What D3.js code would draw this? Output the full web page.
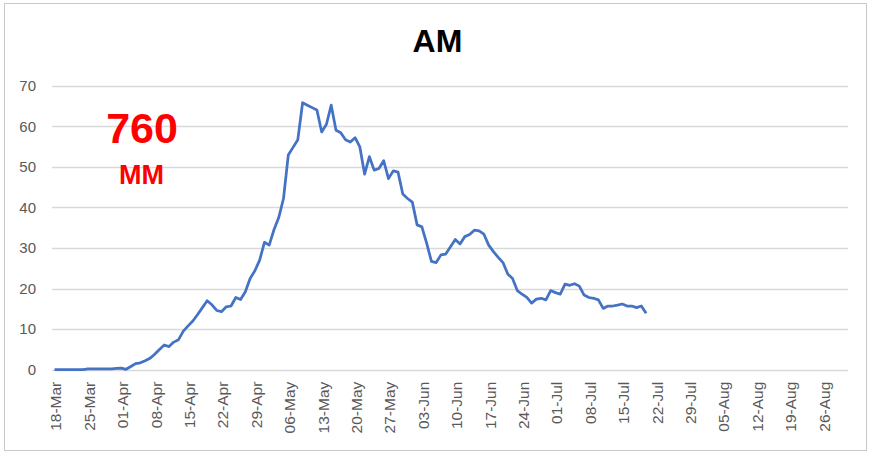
<!DOCTYPE html>
<html>
<head>
<meta charset="utf-8">
<script src="https://cdn.jsdelivr.net/npm/d3@7"></script>
<style>
  body { margin: 0; background: #fff; }
  svg { display: block; font-family: "Liberation Sans", Arial, sans-serif; }
</style>
</head>
<body>
<svg width="871" height="452"></svg>
<script>
// daily values, one per day starting at firstDay
var firstDay = "18-Mar-2020";
var values = [
  0.0, 0.0, 0.0, 0.0, 0.0, 0.0, 0.0, 0.2, 0.2, 0.2,
  0.2, 0.2, 0.2, 0.3, 0.4, 0.1, 0.8, 1.5, 1.7, 2.2,
  2.8, 3.8, 5.0, 6.1, 5.7, 6.8, 7.4, 9.5, 10.8, 12.0,
  13.6, 15.3, 17.0, 16.0, 14.6, 14.3, 15.5, 15.7, 17.8, 17.3,
  19.2, 22.5, 24.4, 27.0, 31.4, 30.7, 34.5, 37.5, 42.2, 52.9,
  54.8, 56.7, 65.8, 65.2, 64.6, 64.0, 58.6, 60.5, 65.2, 59.0,
  58.4, 56.7, 56.1, 57.2, 54.9, 48.2, 52.5, 49.2, 49.6, 51.5,
  47.1, 49.0, 48.7, 43.3, 42.2, 41.3, 35.7, 35.2, 31.2, 26.7,
  26.4, 28.3, 28.5, 30.3, 32.1, 31.0, 32.8, 33.3, 34.4, 34.2,
  33.4, 30.7, 29.1, 27.7, 26.4, 23.6, 22.5, 19.5, 18.6, 17.8,
  16.4, 17.4, 17.6, 17.2, 19.5, 19.0, 18.6, 21.1, 20.8, 21.2,
  20.6, 18.4, 17.8, 17.6, 17.2, 15.1, 15.7, 15.7, 15.9, 16.2,
  15.7, 15.7, 15.3, 15.7, 13.9
];

var xTickLabels = ["18-Mar", "25-Mar", "01-Apr", "08-Apr", "15-Apr", "22-Apr", "29-Apr",
  "06-May", "13-May", "20-May", "27-May", "03-Jun", "10-Jun", "17-Jun", "24-Jun",
  "01-Jul", "08-Jul", "15-Jul", "22-Jul", "29-Jul", "05-Aug", "12-Aug", "19-Aug", "26-Aug"];
var lastDay = "31-Aug-2020";
var yTicks = [0, 10, 20, 30, 40, 50, 60, 70];

var parse = d3.utcParse("%d-%b-%Y");
var start = parse(firstDay);
var data = values.map(function(v, i) {
  return { date: d3.utcDay.offset(start, i), value: v };
});
var tickDates = xTickLabels.map(function(s) { return parse(s + "-2020"); });

var svg = d3.select("svg");

svg.append("rect")
  .attr("x", 4.5).attr("y", 3.5)
  .attr("width", 862).attr("height", 447)
  .attr("fill", "none")
  .attr("stroke", "#c9c9c9");

var x = d3.scaleUtc().domain([start, parse(lastDay)]).range([54.5, 846.5]);
var y = d3.scaleLinear().domain([0, 70]).range([369.7, 85.7]);

// gridlines
svg.append("g")
  .selectAll("line")
  .data(yTicks)
  .enter().append("line")
    .attr("x1", 52).attr("x2", 848)
    .attr("y1", function(d) { return Math.round(y(d)) + 0.5; })
    .attr("y2", function(d) { return Math.round(y(d)) + 0.5; })
    .attr("stroke", "#d9d9d9")
    .attr("stroke-width", 1.3);

// y axis labels
var yAxis = d3.axisLeft(y).tickValues(yTicks).tickSize(0).tickPadding(0);
var gy = svg.append("g")
  .attr("transform", "translate(36,0)")
  .call(yAxis);
gy.select(".domain").remove();
gy.selectAll("text")
  .attr("fill", "#595959")
  .style("font-size", "15px")
  .style("font-family", "Liberation Sans, Arial, sans-serif");

// x axis labels (rotated)
var xAxis = d3.axisBottom(x).tickValues(tickDates).tickFormat(d3.utcFormat("%d-%b")).tickSize(0);
var gx = svg.append("g")
  .attr("transform", "translate(1," + y(0) + ")")
  .call(xAxis);
gx.select(".domain").remove();
gx.selectAll("text")
  .attr("transform", "rotate(-90)")
  .attr("x", -12)
  .attr("y", 0)
  .attr("dy", "0.35em")
  .style("text-anchor", "end")
  .attr("fill", "#595959")
  .style("font-size", "15.5px")
  .style("font-family", "Liberation Sans, Arial, sans-serif");

// line
var line = d3.line()
  .x(function(d) { return x(d.date); })
  .y(function(d) { return y(d.value); });

svg.append("path")
  .datum(data)
  .attr("d", line)
  .attr("fill", "none")
  .attr("stroke", "#4472c4")
  .attr("stroke-width", 2.75)
  .attr("stroke-linejoin", "round");

// title
svg.append("text")
  .attr("x", 437.5).attr("y", 52)
  .attr("text-anchor", "middle")
  .style("font-size", "32px")
  .style("font-weight", "bold")
  .attr("fill", "#000")
  .text("AM");

// annotations
svg.append("text")
  .attr("x", 142).attr("y", 143)
  .attr("text-anchor", "middle")
  .style("font-size", "43px")
  .style("font-weight", "bold")
  .attr("fill", "#ff0000")
  .text("760");

svg.append("text")
  .attr("x", 141.5).attr("y", 184)
  .attr("text-anchor", "middle")
  .style("font-size", "27px")
  .style("font-weight", "bold")
  .attr("fill", "#ff0000")
  .text("MM");
</script>
</body>
</html>
